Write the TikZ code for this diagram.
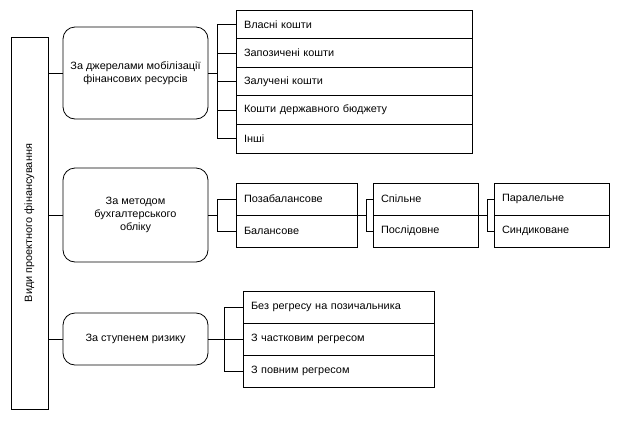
\documentclass[tikz,border=0pt]{standalone}
\usepackage{fontspec}
\setmainfont{Liberation Sans}[FakeStretch=1.03]
\usetikzlibrary{positioning}

\begin{document}
\begin{tikzpicture}[x=1pt, y=-1pt, line width=0.8pt,
    font=\fontsize{10.6}{13}\selectfont,
    catbox/.style={draw, rounded corners=12pt, minimum width=145pt, align=center, inner sep=0pt},
    rowbox/.style={draw, anchor=north west, minimum height=#1, inner xsep=8pt, outer sep=0pt, align=left},
    rowbox/.default=28.6pt]
    \useasboundingbox (0,0) rectangle (620,421);
    % main box
    \node[draw, rotate=90, minimum width=372pt, minimum height=37pt] (main) at (29.5,223) {Види проектного фінансування};
    % categories
    \node[catbox, minimum height=92pt] (cat1) at (135.5,73) {За джерелами мобілізації\\фінансових ресурсів};
    \node[catbox, minimum height=94pt] (cat2) at (135.5,215) {За методом\\бухгалтерського\\обліку};
    \node[catbox, minimum height=52pt] (cat3) at (135.5,339) {За ступенем ризику};
    \foreach \c in {cat1, cat2, cat3}
        \draw (main.south |- \c.west) -- (\c.west);
    % sources
    \node[rowbox, text width=220pt] (src1) at (236,10) {Власні кошти};
    \node[rowbox, text width=220pt, below=0pt of src1] (src2) {Запозичені кошти};
    \node[rowbox, text width=220pt, below=0pt of src2] (src3) {Залучені кошти};
    \node[rowbox, text width=220pt, below=0pt of src3] (src4) {Кошти державного бюджету};
    \node[rowbox, text width=220pt, below=0pt of src4] (src5) {Інші};
    \draw (cat1.east) -- ++(9,0) coordinate (bus1);
    \draw (bus1 |- src1.west) -- (bus1 |- src5.west);
    \foreach \i in {1,...,5}
        \draw (bus1 |- src\i.west) -- (src\i.west);
    % accounting
    \node[rowbox=32pt, text width=105pt] (acc1) at (236,183) {Позабалансове};
    \node[rowbox=32pt, text width=105pt, below=0pt of acc1] (acc2) {Балансове};
    \node[rowbox=32pt, text width=89pt] (joint1) at (373,183) {Спільне};
    \node[rowbox=32pt, text width=89pt, below=0pt of joint1] (joint2) {Послідовне};
    \node[rowbox=32pt, text width=99pt] (par1) at (494,183) {Паралельне};
    \node[rowbox=32pt, text width=99pt, below=0pt of par1] (par2) {Синдиковане};
    \draw (cat2.east) -- ++(9,0) coordinate (bus2);
    \draw (bus2 |- acc1.west) -- (bus2 |- acc2.west);
    \draw (bus2 |- acc1.west) -- (acc1.west);
    \draw (bus2 |- acc2.west) -- (acc2.west);
    \draw (acc1.south east) -- ++(9,0) coordinate (bus3);
    \draw (bus3 |- joint1.west) -- (bus3 |- joint2.west);
    \draw (bus3 |- joint1.west) -- (joint1.west);
    \draw (bus3 |- joint2.west) -- (joint2.west);
    \draw (joint1.south east) -- ++(9,0) coordinate (bus4);
    \draw (bus4 |- par1.west) -- (bus4 |- par2.west);
    \draw (bus4 |- par1.west) -- (par1.west);
    \draw (bus4 |- par2.west) -- (par2.west);
    % risk
    \node[rowbox=32pt, text width=175pt] (risk1) at (243,291) {Без регресу на позичальника};
    \node[rowbox=32pt, text width=175pt, below=0pt of risk1] (risk2) {З частковим регресом};
    \node[rowbox=32pt, text width=175pt, below=0pt of risk2] (risk3) {З повним регресом};
    \draw (cat3.east) -- ++(16,0) coordinate (bus5);
    \draw (bus5 |- risk1.west) -- (bus5 |- risk3.west);
    \foreach \i in {1,2,3}
        \draw (bus5 |- risk\i.west) -- (risk\i.west);
\end{tikzpicture}
\end{document}
